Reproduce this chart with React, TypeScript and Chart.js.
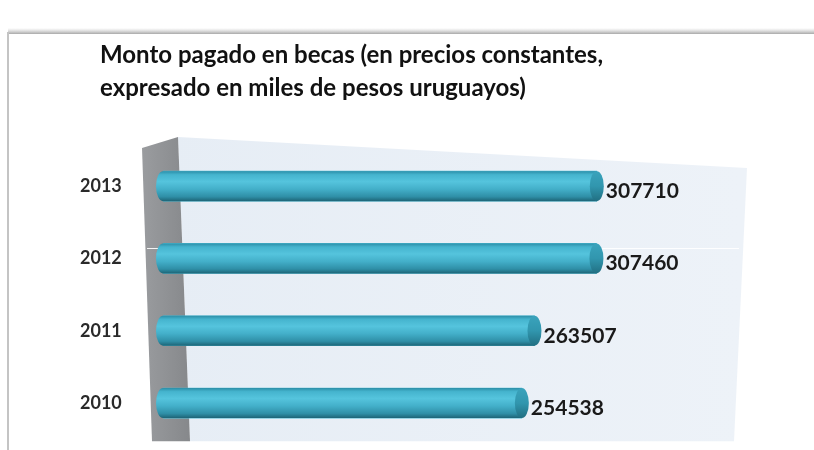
import React, { useEffect, useRef } from "react";
import { Chart, registerables } from "chart.js";

Chart.register(...registerables);

const years = ["2010", "2011", "2012", "2013"];
const amounts = [254538, 263507, 307460, 307710];
const titleLines = [
  "Monto pagado en becas (en precios constantes,",
  "expresado en miles de pesos uruguayos)",
];

const FONT = "Lato, 'Open Sans', sans-serif";

const decorPlugin = {
  id: "decor",
  beforeDraw(chart: any) {
    const { ctx, chartArea: ca, width, height } = chart;
    ctx.save();
    ctx.fillStyle = "#ffffff";
    ctx.fillRect(0, 0, width, height);
    const g = ctx.createLinearGradient(0, 28, 0, 34);
    g.addColorStop(0, "rgba(200,200,200,0)");
    g.addColorStop(1, "#a8a8a8");
    ctx.fillStyle = g;
    ctx.fillRect(8, 28, width - 8, 6);
    ctx.fillStyle = "#c4c4c4";
    ctx.fillRect(7, 32, 2, height - 32);
    ctx.fillStyle = "#111111";
    ctx.font = `bold 24px ${FONT}`;
    ctx.textBaseline = "alphabetic";
    ctx.textAlign = "left";
    ctx.fillText(titleLines[0], 100, 63);
    ctx.fillText(titleLines[1], 100, 96);
    const L = ca.left, R = ca.right, T = ca.top, B = ca.bottom;
    const wg = ctx.createLinearGradient(L, 0, R, 0);
    wg.addColorStop(0, "#e6edf5");
    wg.addColorStop(1, "#edf2f8");
    ctx.fillStyle = wg;
    ctx.beginPath();
    ctx.moveTo(L + 15, T - 13);
    ctx.lineTo(R + 6, T + 18);
    ctx.lineTo(R - 7, B + 2);
    ctx.lineTo(L + 27, B + 2);
    ctx.closePath();
    ctx.fill();
    const sg = ctx.createLinearGradient(L - 21, 0, L + 27, 0);
    sg.addColorStop(0, "#9a9c9f");
    sg.addColorStop(1, "#86888b");
    ctx.fillStyle = sg;
    ctx.beginPath();
    ctx.moveTo(L - 21, T - 2);
    ctx.lineTo(L + 15, T - 13);
    ctx.lineTo(L + 27, B + 2);
    ctx.lineTo(L - 11, B + 2);
    ctx.closePath();
    ctx.fill();
    ctx.strokeStyle = "rgba(255,255,255,0.9)";
    ctx.lineWidth = 1;
    ctx.beginPath();
    ctx.moveTo(L - 16, T + 98.5);
    ctx.lineTo(R - 2, T + 98.5);
    ctx.stroke();
    ctx.restore();
  },
  afterDatasetsDraw(chart: any) {
    const { ctx } = chart;
    const meta = chart.getDatasetMeta(0);
    ctx.save();
    meta.data.forEach((el: any, i: number) => {
      const x0 = el.base, x1 = el.x, yc = el.y, h = el.height;
      const r = h / 2, rx = 7;
      const bg = ctx.createLinearGradient(0, yc - r, 0, yc + r);
      bg.addColorStop(0, "#2c8fa8");
      bg.addColorStop(0.12, "#45b4ce");
      bg.addColorStop(0.35, "#55c4dd");
      bg.addColorStop(0.6, "#43afc9");
      bg.addColorStop(0.85, "#2f8fa7");
      bg.addColorStop(1, "#1d6476");
      ctx.fillStyle = bg;
      ctx.beginPath();
      ctx.moveTo(x0, yc - r);
      ctx.lineTo(x1, yc - r);
      ctx.lineTo(x1, yc + r);
      ctx.lineTo(x0, yc + r);
      ctx.ellipse(x0, yc, rx, r, 0, Math.PI / 2, (3 * Math.PI) / 2);
      ctx.closePath();
      ctx.fill();
      const cg = ctx.createLinearGradient(0, yc - r, 0, yc + r);
      cg.addColorStop(0, "#3aa3bc");
      cg.addColorStop(0.5, "#3196ae");
      cg.addColorStop(1, "#216f82");
      ctx.fillStyle = cg;
      ctx.beginPath();
      ctx.ellipse(x1, yc, rx, r, 0, 0, Math.PI * 2);
      ctx.fill();
      ctx.fillStyle = "#1a1a1a";
      ctx.font = `bold 21px ${FONT}`;
      ctx.textAlign = "left";
      ctx.textBaseline = "middle";
      ctx.fillText(String(amounts[i]), x1 + rx + 2, yc + 5);
    });
    ctx.restore();
  },
};

export default function App() {
  const ref = useRef<HTMLCanvasElement | null>(null);
  useEffect(() => {
    if (!ref.current) return;
    const chart = new Chart(ref.current, {
      type: "bar",
      data: {
        labels: years,
        datasets: [
          {
            data: amounts,
            backgroundColor: "#4bbad4",
            barThickness: 30,
          },
        ],
      },
      options: {
        indexAxis: "y",
        animation: false,
        responsive: false,
        maintainAspectRatio: false,
        layout: { padding: { top: 150, right: 73, bottom: 10, left: 80 } },
        plugins: {
          legend: { display: false },
          title: { display: false },
          tooltip: { enabled: false },
        },
        scales: {
          x: {
            min: 0,
            max: 410000,
            display: false,
          },
          y: {
            reverse: true,
            grid: { display: false },
            border: { display: false },
            afterFit: (scale: any) => {
              scale.width = 83;
            },
            ticks: {
              padding: 0,
              crossAlign: "far",
              color: "#2a2a2a",
              font: { family: FONT, size: 18, weight: "bold" },
            },
          },
        },
      },
      plugins: [decorPlugin],
    });
    return () => chart.destroy();
  }, []);
  return (
    <div style={{ position: "absolute", left: 0, top: 0, width: 814, height: 450 }}>
      <canvas ref={ref} width={814} height={450} style={{ width: 814, height: 450 }} />
    </div>
  );
}
